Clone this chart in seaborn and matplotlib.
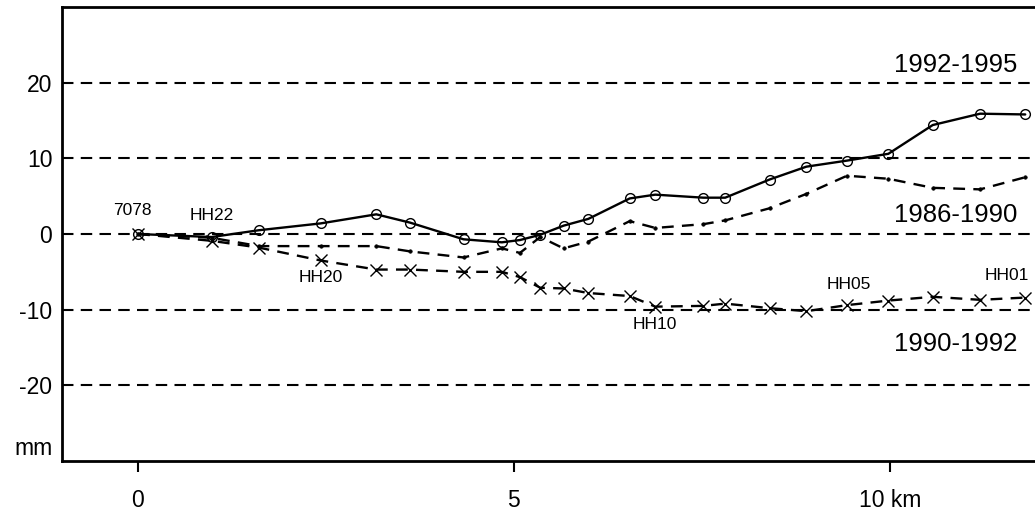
import matplotlib
matplotlib.use('Agg')
import matplotlib.pyplot as plt
import seaborn as sns

# stations along the profile (km)
km = [0, 0.98, 1.61, 2.43, 3.17, 3.62, 4.33, 4.84, 5.08, 5.35, 5.66, 5.99,
      6.54, 6.88, 7.52, 7.81, 8.40, 8.89, 9.43, 9.98, 10.57, 11.20, 11.80]

# height change (mm)
d_9295 = [0, -0.4, 0.5, 1.4, 2.6, 1.5, -0.7, -1.1, -0.8, -0.1, 1.1, 2.0,
          4.7, 5.2, 4.8, 4.8, 7.2, 8.9, 9.7, 10.6, 14.4, 15.9, 15.8]
d_8690 = [0, -0.5, -1.6, -1.6, -1.6, -2.3, -3.1, -1.9, -2.5, -0.4, -1.9, -1.0,
          1.7, 0.8, 1.3, 1.8, 3.4, 5.3, 7.7, 7.3, 6.1, 5.9, 7.5]
d_9092 = [0, -0.9, -1.8, -3.5, -4.7, -4.7, -5.0, -5.0, -5.7, -7.1, -7.2, -7.8,
          -8.2, -9.6, -9.5, -9.2, -9.8, -10.2, -9.4, -8.8, -8.3, -8.7, -8.4]

periods = ['1992-1995', '1986-1990', '1990-1992']
period_y = [22.4, 2.5, -14.6]

stations = ['7078', 'HH22', 'HH20', 'HH10', 'HH05', 'HH01']
station_pos = [(-0.08, 3.1), (0.98, 2.4), (2.43, -5.8), (6.88, -12.0), (9.45, -6.7), (11.55, -5.5)]

yticks = [-28, -20, -10, 0, 10, 20]
ytick_labels = ['mm', '-20', '-10', '0', '10', '20']

sns.set_style('white')
plt.rcParams['font.family'] = ['Liberation Sans', 'DejaVu Sans']
plt.rcParams['text.color'] = 'black'
plt.rcParams['xtick.color'] = 'black'
plt.rcParams['ytick.color'] = 'black'

fig = plt.figure(figsize=(10.35, 5.15), dpi=100)
ax = fig.add_axes([62 / 1035, 54 / 515, 973 / 1035, 454 / 515])

for y in [-20, -10, 0, 10, 20]:
    ax.axhline(y, color='black', lw=1.5, ls=(0, (5.5, 3.5)), zorder=1)

sns.lineplot(x=km, y=d_9295, ax=ax, color='black', lw=1.7, sort=False,
             marker='o', markersize=7, markerfacecolor='none',
             markeredgecolor='black', markeredgewidth=1.0, zorder=3)
sns.lineplot(x=km, y=d_8690, ax=ax, color='black', lw=1.7, sort=False,
             linestyle=(0, (5, 3.5)), marker='.', markersize=5,
             markeredgecolor='black', markeredgewidth=0.5, zorder=3)
sns.lineplot(x=km, y=d_9092, ax=ax, color='black', lw=1.7, sort=False,
             linestyle=(0, (5, 3.5)), marker='x', markersize=8,
             markeredgecolor='black', markeredgewidth=1.0, zorder=3)

for name, (sx, sy) in zip(stations, station_pos):
    ax.text(sx, sy, name, fontsize=12.5, ha='center', va='center')

for name, py in zip(periods, period_y):
    ax.text(11.70, py, name, fontsize=18.5, ha='right', va='center')

ax.set_xlim(-1.01, 11.93)
ax.set_ylim(-30, 30)
ax.set_xticks([0, 5, 10])
ax.set_xticklabels(['0', '5', '10 km'])
ax.set_yticks(yticks)
ax.set_yticklabels(ytick_labels)
ax.tick_params(axis='x', direction='out', length=8, width=1.5, pad=12,
               labelsize=16.5, bottom=True)
ax.tick_params(axis='y', length=0, pad=7, labelsize=16.5)

for s in ['left', 'top', 'bottom']:
    ax.spines[s].set_linewidth(2)
    ax.spines[s].set_color('black')
ax.spines['right'].set_visible(False)

fig.savefig('out.png', dpi=100)
